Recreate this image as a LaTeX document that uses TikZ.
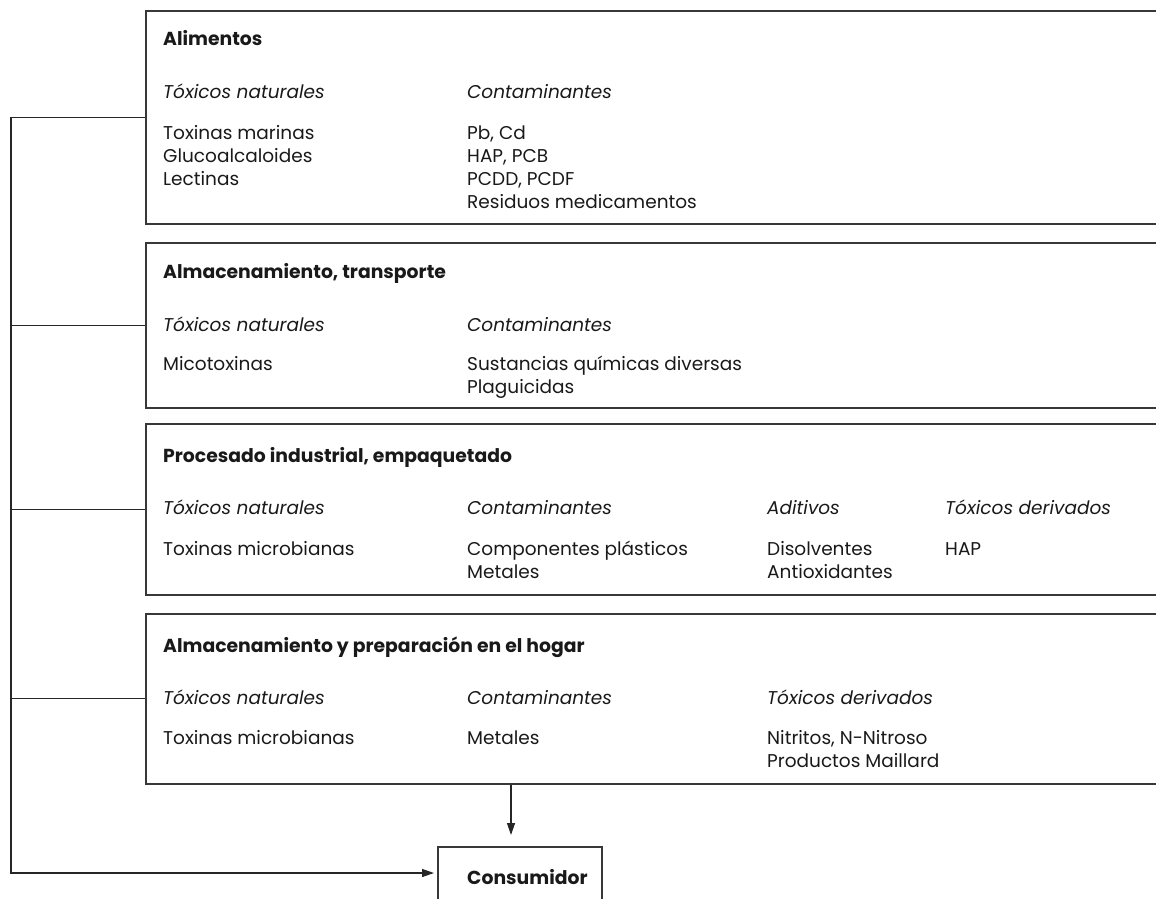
\documentclass[tikz,border=0pt]{standalone}
\usepackage{fontspec}
\setmainfont{Poppins}
\usetikzlibrary{arrows.meta}

\begin{document}
\begin{tikzpicture}[x=1pt,y=-1pt,
  stage/.style={draw=black!78, line width=1.6pt, anchor=north west,
    minimum width=1060pt, inner sep=0pt},
  txt/.style={anchor=base west, inner sep=0pt, text=black!90,
    font=\fontsize{18.5}{22}\selectfont},
  head/.style={txt, font=\fontsize{18.8}{22}\selectfont\bfseries},
  sub/.style={txt, font=\fontsize{18.5}{22}\selectfont\itshape},
  wire/.style={draw=black!85, line width=1.3pt},
  tip/.style={-{Triangle[length=12pt,width=8pt]}}
]
\useasboundingbox (0,0) rectangle (1156,899);
\clip (0,0) rectangle (1156,899);

% stage boxes (they run past the right edge)
\node[stage, minimum height=213pt] (b1) at (145,10) {};
\node[stage, minimum height=165pt] (b2) at (145,242) {};
\node[stage, minimum height=171pt] (b3) at (145,423) {};
\node[stage, minimum height=170pt] (b4) at (145,613) {};
\node[stage, minimum width=164pt, minimum height=90pt] (cons) at (437,846) {};

% Alimentos
\node[head] (h1) at (163,46) {Alimentos};
\node[sub] (s1a) at (163,98) {Tóxicos naturales};
\node[sub] (s1b) at (467,98) {Contaminantes};
\node[txt] (i1a) at (163,139) {Toxinas marinas};
\node[txt] (i1b) at (163,162) {Glucoalcaloides};
\node[txt] (i1c) at (163,185) {Lectinas};
\node[txt] (i1d) at (467,139) {Pb, Cd};
\node[txt] (i1e) at (467,162) {HAP, PCB};
\node[txt] (i1f) at (467,185) {PCDD, PCDF};
\node[txt] (i1g) at (467,208) {Residuos medicamentos};

% Almacenamiento, transporte
\node[head] (h2) at (163,278) {Almacenamiento, transporte};
\node[sub] (s2a) at (163,331) {Tóxicos naturales};
\node[sub] (s2b) at (467,331) {Contaminantes};
\node[txt] (i2a) at (163,370) {Micotoxinas};
\node[txt] (i2b) at (467,370) {Sustancias químicas diversas};
\node[txt] (i2c) at (467,393) {Plaguicidas};

% Procesado industrial, empaquetado
\node[head] (h3) at (163,462) {Procesado industrial, empaquetado};
\node[sub] (s3a) at (163,514) {Tóxicos naturales};
\node[sub] (s3b) at (467,514) {Contaminantes};
\node[sub] (s3c) at (767,514) {Aditivos};
\node[sub] (s3d) at (945,514) {Tóxicos derivados};
\node[txt] (i3a) at (163,555) {Toxinas microbianas};
\node[txt] (i3b) at (467,555) {Componentes plásticos};
\node[txt] (i3c) at (467,578) {Metales};
\node[txt] (i3d) at (767,555) {Disolventes};
\node[txt] (i3e) at (767,578) {Antioxidantes};
\node[txt] (i3f) at (945,555) {HAP};

% Almacenamiento y preparación en el hogar
\node[head] (h4) at (163,652) {Almacenamiento y preparación en el hogar};
\node[sub] (s4a) at (163,704) {Tóxicos naturales};
\node[sub] (s4b) at (467,704) {Contaminantes};
\node[sub] (s4c) at (767,704) {Tóxicos derivados};
\node[txt] (i4a) at (163,744) {Toxinas microbianas};
\node[txt] (i4b) at (467,744) {Metales};
\node[txt] (i4c) at (767,744) {Nitritos, N-Nitroso};
\node[txt] (i4d) at (767,767) {Productos Maillard};

% Consumidor
\node[head] (h5) at (467,884) {Consumidor};

% collecting line on the left and arrows into the consumer box
\coordinate (turn) at (11,873);
\coordinate (drop) at (511,0);
\foreach \b in {b1,b2,b3,b4}
  \draw[wire] (\b.west) -- (\b.west -| turn);
\draw[wire, tip, shorten >=3pt] (b1.west -| turn) -- (turn) -- (turn -| cons.west);
\draw[wire, tip, shorten >=11pt] (b4.south -| drop) -- (cons.north -| drop);
\end{tikzpicture}
\end{document}
